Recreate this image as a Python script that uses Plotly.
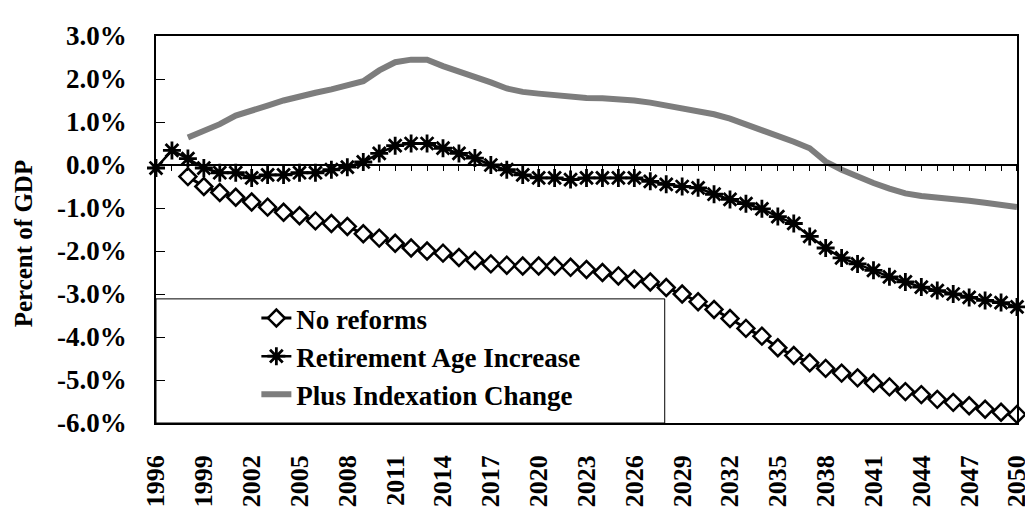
import plotly.graph_objects as go

years = list(range(1996, 2051))

no_reforms = [None, None,
    -0.27, -0.50, -0.64, -0.75, -0.86, -0.98, -1.10, -1.18, -1.30, -1.36,
    -1.43, -1.60, -1.70, -1.82, -1.93, -2.00, -2.05, -2.15, -2.22, -2.30,
    -2.33, -2.35, -2.35, -2.35, -2.38, -2.43, -2.50, -2.58, -2.65, -2.72,
    -2.85, -3.00, -3.18, -3.36, -3.57, -3.80, -3.98, -4.25, -4.43, -4.60,
    -4.73, -4.84, -4.95, -5.07, -5.16, -5.27, -5.34, -5.45, -5.52, -5.60,
    -5.68, -5.75, -5.80]

retirement_age = [
    -0.07, 0.34, 0.15, -0.07, -0.18, -0.18, -0.30, -0.23, -0.23, -0.18,
    -0.18, -0.11, -0.05, 0.07, 0.27, 0.45, 0.50, 0.50, 0.39, 0.27,
    0.16, 0.00, -0.11, -0.23, -0.30, -0.30, -0.34, -0.30, -0.30, -0.30,
    -0.30, -0.38, -0.45, -0.50, -0.53, -0.68, -0.80, -0.90, -1.02, -1.20,
    -1.36, -1.66, -1.93, -2.16, -2.30, -2.45, -2.60, -2.72, -2.84, -2.92,
    -3.00, -3.08, -3.15, -3.20, -3.30]

plus_indexation = [None, None,
    0.64, 0.80, 0.95, 1.15, 1.28, 1.38, 1.50, 1.60, 1.68, 1.76,
    1.85, 1.95, 2.20, 2.39, 2.45, 2.45, 2.30, 2.18, 2.07, 1.92,
    1.78, 1.70, 1.66, 1.62, 1.58, 1.56, 1.55, 1.53, 1.50, 1.45,
    1.38, 1.33, 1.25, 1.18, 1.08, 0.95, 0.82, 0.68, 0.54, 0.39,
    0.08, -0.11, -0.27, -0.42, -0.55, -0.66, -0.72, -0.75, -0.79, -0.83,
    -0.88, -0.93, -0.98]

series_names = ["No reforms", "Retirement Age Increase", "Plus Indexation Change"]

x_tick_years = list(range(1996, 2051, 3))
x_tick_labels = [str(y) for y in x_tick_years]
y_tick_vals = [3, 2, 1, 0, -1, -2, -3, -4, -5, -6]
y_tick_labels = ["3.0%", "2.0%", "1.0%", "0.0%", "-1.0%", "-2.0%", "-3.0%", "-4.0%", "-5.0%", "-6.0%"]

SERIF = "Liberation Serif"

fig = go.Figure()

fig.add_trace(go.Scatter(
    x=years, y=plus_indexation, name=series_names[2], mode="lines",
    line=dict(color="#7d7d7d", width=6), cliponaxis=False,
))
fig.add_trace(go.Scatter(
    x=years, y=retirement_age, name=series_names[1], mode="lines+markers",
    line=dict(color="black", width=2.5),
    marker=dict(symbol="asterisk-open", size=15, color="black",
                line=dict(color="black", width=2.8)),
    cliponaxis=False,
))
fig.add_trace(go.Scatter(
    x=years, y=no_reforms, name=series_names[0], mode="lines+markers",
    line=dict(color="black", width=3),
    marker=dict(symbol="diamond", size=13, color="white",
                line=dict(color="black", width=2.5)),
    cliponaxis=False,
))
# empty trace so the zero-line axis is drawn
fig.add_trace(go.Scatter(x=[], y=[], xaxis="x2", showlegend=False, hoverinfo="skip"))

XR = [1996 - 0.0005, 2050 + 0.0005]

fig.update_layout(
    width=1033, height=509,
    margin=dict(l=148, r=10, t=28, b=85),
    paper_bgcolor="white", plot_bgcolor="white",
    showlegend=True,
    legend=dict(
        x=(250 - 148) / 875, xanchor="left",
        y=(424 - 292) / 396, yanchor="top",
        traceorder="reversed",
        font=dict(family=SERIF, size=27, color="black", weight="bold"),
        bgcolor="rgba(0,0,0,0)", borderwidth=0,
        tracegroupgap=0,
    ),
    xaxis=dict(
        range=XR, showgrid=False, zeroline=False,
        showline=True, mirror=True, linecolor="black", linewidth=1.5,
        tickvals=x_tick_years, ticktext=x_tick_labels, tickangle=-90,
        ticks="", ticklabelstandoff=20, ticklabeloverflow="allow",
        tickfont=dict(family=SERIF, size=26, color="black", weight="bold"),
    ),
    xaxis2=dict(
        range=XR, overlaying="x", anchor="free", position=6 / 9,
        showline=True, linecolor="black", linewidth=1.5,
        ticks="outside", ticklen=5, tickcolor="black", tickwidth=1,
        tick0=1996, dtick=1, showticklabels=False, showgrid=False, zeroline=False,
    ),
    yaxis=dict(
        range=[-6, 3], showgrid=False, zeroline=False,
        showline=True, mirror=True, linecolor="black", linewidth=1.5,
        tickvals=y_tick_vals, ticktext=y_tick_labels,
        ticks="inside", ticklen=9, tickcolor="black",
        ticklabelstandoff=22,
        tickfont=dict(family=SERIF, size=27, color="black", weight="bold"),
    ),
    shapes=[dict(
        type="rect", xref="paper", yref="paper",
        x0=0, x1=(665 - 148) / 875, y0=0, y1=(424 - 297) / 396,
        line=dict(color="black", width=1), fillcolor="white", layer="below",
    )],
    annotations=[dict(
        text="Percent of GDP", xref="paper", yref="paper",
        x=(13 - 148) / 875, y=(424 - 240) / 396, textangle=-90,
        showarrow=False, xanchor="center", yanchor="middle",
        font=dict(family=SERIF, size=25, color="black", weight="bold"),
    )],
)

fig.write_html("out.html")
